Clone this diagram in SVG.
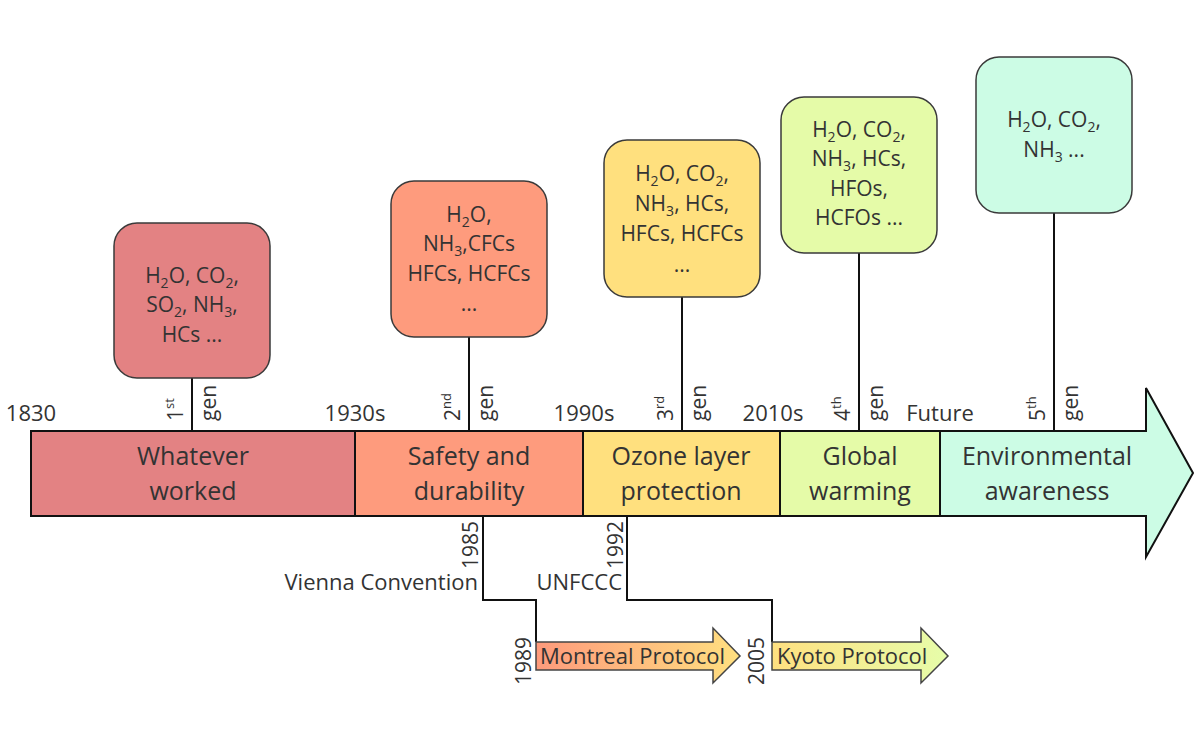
<svg xmlns="http://www.w3.org/2000/svg" width="1200" height="742" viewBox="0 0 1200 742">
<style>
text{font-family:"Open Sans","Noto Sans","DejaVu Sans",sans-serif;fill:#333}
.box{stroke:#3a3a3a;stroke-width:1.5}
.bt{font-size:21px;text-anchor:middle}
.seg{stroke:#111;stroke-width:2}
.st{font-size:25px;text-anchor:middle}
.yr{font-size:22px;text-anchor:middle}
.rot{font-size:21px}
.ry{font-size:21px}
.con{fill:none;stroke:#111;stroke-width:2}
.arr{stroke:#444;stroke-width:1.5}
.lab{font-size:22px}
</style>
<defs>
<linearGradient id="gM" x1="0" y1="0" x2="1" y2="0"><stop offset="0" stop-color="#FE9A7C"/><stop offset="1" stop-color="#FFE080"/></linearGradient>
<linearGradient id="gK" x1="0" y1="0" x2="1" y2="0"><stop offset="0" stop-color="#FFE080"/><stop offset="1" stop-color="#E6FDAA"/></linearGradient>
</defs>
<g id="connectors">
<line class="con" x1="192" y1="378" x2="192" y2="431"/>
<line class="con" x1="469" y1="337" x2="469" y2="431"/>
<line class="con" x1="682" y1="297" x2="682" y2="431"/>
<line class="con" x1="859" y1="253" x2="859" y2="431"/>
<line class="con" x1="1054" y1="213" x2="1054" y2="431"/>
<polyline class="con" points="483,516 483,600 536,600 536,642"/>
<polyline class="con" points="627,516 627,600 772,600 772,642"/>
</g>
<g id="gen1">
<rect class="box" x="114" y="223" width="156" height="155" rx="23" fill="#E38283"/>
<text class="bt" x="192" y="283">H<tspan font-size="14" dy="5">2</tspan><tspan dy="-5">O, CO</tspan><tspan font-size="14" dy="5">2</tspan><tspan dy="-5">,</tspan></text>
<text class="bt" x="192" y="312">SO<tspan font-size="14" dy="5">2</tspan><tspan dy="-5">, NH</tspan><tspan font-size="14" dy="5">3</tspan><tspan dy="-5">,</tspan></text>
<text class="bt" x="192" y="342">HCs ...</text>
<text class="rot" transform="translate(183,421) rotate(-90)">1<tspan font-size="13" dy="-9">st</tspan></text>
<text class="rot" transform="translate(216,421) rotate(-90)">gen</text>
</g>
<g id="gen2">
<rect class="box" x="391" y="181" width="156" height="156" rx="23" fill="#FE9B7D"/>
<text class="bt" x="469" y="222">H<tspan font-size="14" dy="5">2</tspan><tspan dy="-5">O,</tspan></text>
<text class="bt" x="469" y="251">NH<tspan font-size="14" dy="5">3</tspan><tspan dy="-5">,CFCs</tspan></text>
<text class="bt" x="469" y="281">HFCs, HCFCs</text>
<text class="bt" x="469" y="311">...</text>
<text class="rot" transform="translate(460,421) rotate(-90)">2<tspan font-size="13" dy="-9">nd</tspan></text>
<text class="rot" transform="translate(493,421) rotate(-90)">gen</text>
</g>
<g id="gen3">
<rect class="box" x="604" y="140" width="156" height="157" rx="23" fill="#FFE07E"/>
<text class="bt" x="682" y="181">H<tspan font-size="14" dy="5">2</tspan><tspan dy="-5">O, CO</tspan><tspan font-size="14" dy="5">2</tspan><tspan dy="-5">,</tspan></text>
<text class="bt" x="682" y="211">NH<tspan font-size="14" dy="5">3</tspan><tspan dy="-5">, HCs,</tspan></text>
<text class="bt" x="682" y="241">HFCs, HCFCs</text>
<text class="bt" x="682" y="272">...</text>
<text class="rot" transform="translate(673,421) rotate(-90)">3<tspan font-size="13" dy="-9">rd</tspan></text>
<text class="rot" transform="translate(706,421) rotate(-90)">gen</text>
</g>
<g id="gen4">
<rect class="box" x="781" y="97" width="156" height="156" rx="23" fill="#E5FBA8"/>
<text class="bt" x="859" y="137">H<tspan font-size="14" dy="5">2</tspan><tspan dy="-5">O, CO</tspan><tspan font-size="14" dy="5">2</tspan><tspan dy="-5">,</tspan></text>
<text class="bt" x="859" y="166">NH<tspan font-size="14" dy="5">3</tspan><tspan dy="-5">, HCs,</tspan></text>
<text class="bt" x="859" y="196">HFOs,</text>
<text class="bt" x="859" y="225">HCFOs ...</text>
<text class="rot" transform="translate(850,421) rotate(-90)">4<tspan font-size="13" dy="-9">th</tspan></text>
<text class="rot" transform="translate(883,421) rotate(-90)">gen</text>
</g>
<g id="gen5">
<rect class="box" x="976" y="57" width="156" height="156" rx="23" fill="#CCFCE5"/>
<text class="bt" x="1054" y="127">H<tspan font-size="14" dy="5">2</tspan><tspan dy="-5">O, CO</tspan><tspan font-size="14" dy="5">2</tspan><tspan dy="-5">,</tspan></text>
<text class="bt" x="1054" y="157">NH<tspan font-size="14" dy="5">3</tspan><tspan dy="-5"> ...</tspan></text>
<text class="rot" transform="translate(1045,421) rotate(-90)">5<tspan font-size="13" dy="-9">th</tspan></text>
<text class="rot" transform="translate(1078,421) rotate(-90)">gen</text>
</g>
<g id="timeline">
<rect class="seg" x="31" y="431" width="324" height="85" fill="#E38283"/>
<rect class="seg" x="355" y="431" width="228" height="85" fill="#FE9B7D"/>
<rect class="seg" x="583" y="431" width="197" height="85" fill="#FFE07E"/>
<rect class="seg" x="780" y="431" width="160" height="85" fill="#E5FBA8"/>
<polygon class="seg" points="940,431 1146,431 1146,388 1193,473 1146,557 1146,516 940,516" fill="#CCFCE5"/>
<text class="st" x="193" y="465">Whatever</text>
<text class="st" x="193" y="500">worked</text>
<text class="st" x="469" y="465">Safety and</text>
<text class="st" x="469" y="500">durability</text>
<text class="st" x="681" y="465">Ozone layer</text>
<text class="st" x="681" y="500">protection</text>
<text class="st" x="860" y="465">Global</text>
<text class="st" x="860" y="500">warming</text>
<text class="st" x="1047" y="465">Environmental</text>
<text class="st" x="1047" y="500">awareness</text>
<text class="yr" x="31" y="421">1830</text>
<text class="yr" x="355" y="421">1930s</text>
<text class="yr" x="584" y="421">1990s</text>
<text class="yr" x="773" y="421">2010s</text>
<text class="yr" x="940" y="421">Future</text>
</g>
<g id="vienna">
<text class="ry" transform="translate(478,521) rotate(-90)" text-anchor="end">1985</text>
<text class="lab" x="478" y="590" text-anchor="end">Vienna Convention</text>
</g>
<g id="unfccc">
<text class="ry" transform="translate(623,521) rotate(-90)" text-anchor="end">1992</text>
<text class="lab" x="622" y="590" text-anchor="end">UNFCCC</text>
</g>
<g id="montreal">
<polygon class="arr" points="536,642 713,642 713,628 740,656 713,683 713,670 536,670" fill="url(#gM)"/>
<text class="lab" x="540" y="664">Montreal Protocol</text>
<text class="ry" transform="translate(531,637) rotate(-90)" text-anchor="end">1989</text>
</g>
<g id="kyoto">
<polygon class="arr" points="772,642 921,642 921,628 948,656 921,683 921,670 772,670" fill="url(#gK)"/>
<text class="lab" x="777" y="664">Kyoto Protocol</text>
<text class="ry" transform="translate(764,637) rotate(-90)" text-anchor="end">2005</text>
</g>
</svg>
